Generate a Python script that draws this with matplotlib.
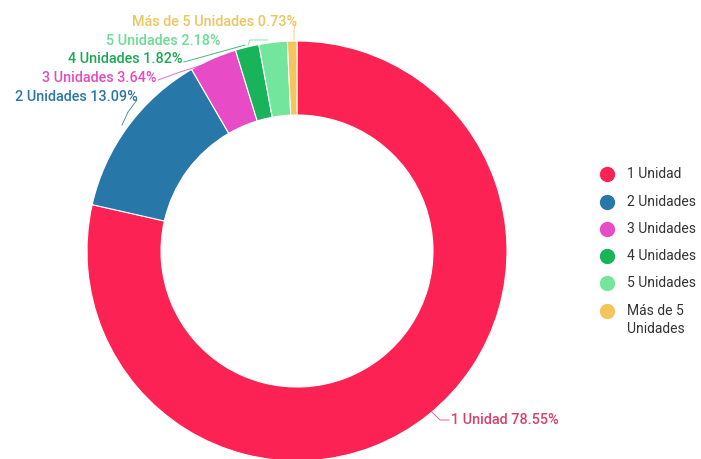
import matplotlib
matplotlib.use("Agg")
import matplotlib.pyplot as plt

categories = ["1 Unidad", "2 Unidades", "3 Unidades", "4 Unidades", "5 Unidades", "Más de 5 Unidades"]
legend_labels = ["1 Unidad", "2 Unidades", "3 Unidades", "4 Unidades", "5 Unidades", "Más de 5\nUnidades"]
percentages = [78.55, 13.09, 3.64, 1.82, 2.18, 0.73]
colors = ["#fd2254", "#2778a9", "#e84bc6", "#19b35a", "#74e59c", "#f4c55c"]
text_colors = ["#d9406c", "#2a76a6", "#e14cc0", "#1aa955", "#6cdc93", "#efc45f"]

W, H = 701, 459
fig = plt.figure(figsize=(W / 100, H / 100), dpi=100)
ax = fig.add_axes([0, 0, 1, 1])
ax.set_xlim(0, W)
ax.set_ylim(0, H)
ax.set_aspect("equal")
ax.axis("off")

cx, cy = 297, H - 251
R, ring = 210, 74

ax.pie(percentages, colors=colors, startangle=90, counterclock=False,
       radius=R, center=(cx, cy),
       wedgeprops=dict(width=ring, edgecolor="white", linewidth=0.8))
ax.set_xlim(0, W)
ax.set_ylim(0, H)

def py(y):
    return H - y

# label anchors (pixel coords, y from top) and leader-line paths
labels = [
    dict(xy=(451, 420), ha="left", path=[(430, 410), (440, 420), (449, 420)]),
    dict(xy=(138, 97), ha="right", path=[(122, 125), (128, 112), (137, 100)]),
    dict(xy=(157, 78), ha="right", path=[(212, 62), (180, 72), (158, 80)]),
    dict(xy=(183, 59), ha="right", path=[(245, 45), (220, 52), (184, 62)]),
    dict(xy=(220, 41), ha="right", path=[(268, 40), (250, 40), (248, 45)]),
    dict(xy=(297, 22), ha="right", path=[(294, 40), (294, 30), (295, 25)]),
]

for cat, pct, tc, lab in zip(categories, percentages, text_colors, labels):
    xs = [p[0] for p in lab["path"]]
    ys = [py(p[1]) for p in lab["path"]]
    ax.plot(xs, ys, color=tc, lw=0.7, alpha=0.8)
    ax.text(lab["xy"][0], py(lab["xy"][1]), f"{cat} {pct:.2f}%", color=tc,
            fontsize=10.4, ha=lab["ha"], va="center", family="Roboto",
            fontweight="medium")

# legend
legend_y = [174, 202, 229, 256, 283, 311]
for lbl, col, y in zip(legend_labels, colors, legend_y):
    ax.plot([607], [py(y)], "o", ms=10, color=col)
    ax.text(627, py(y - 7), lbl, fontsize=10, color="#333333", va="top",
            ha="left", family="Roboto", linespacing=1.35)

fig.savefig("out.png", dpi=100)
